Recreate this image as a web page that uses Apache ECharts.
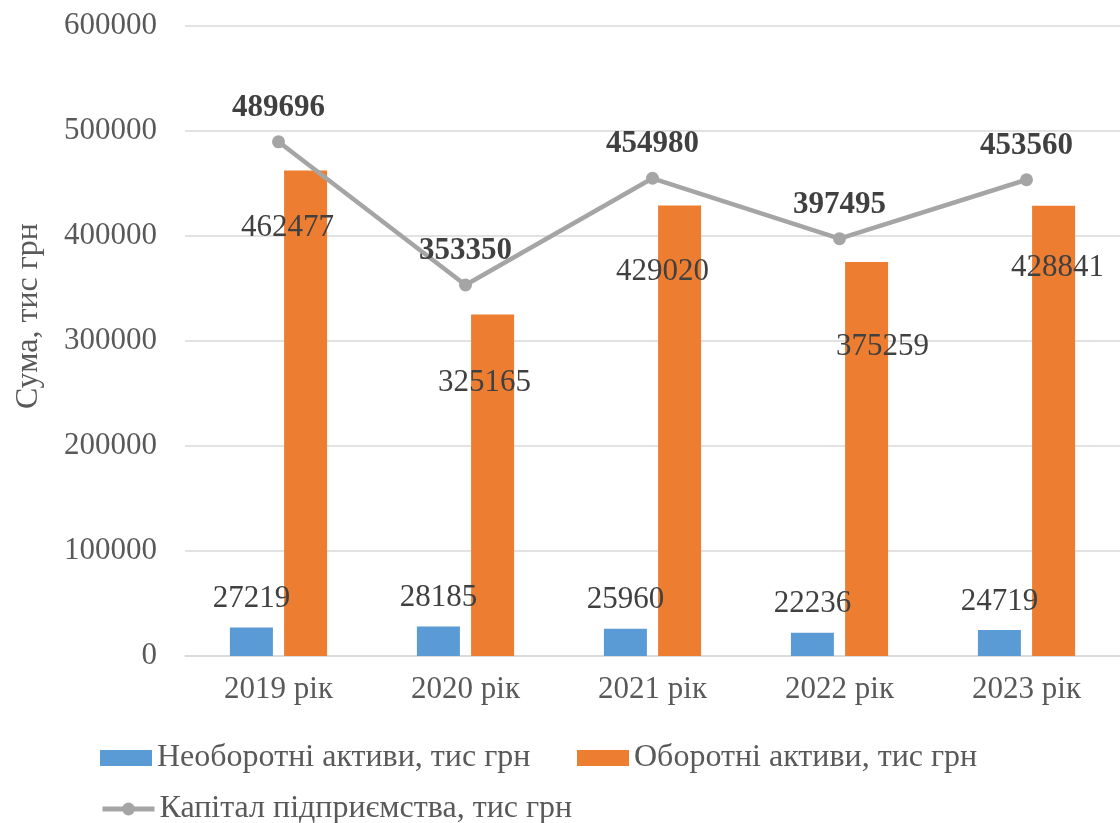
<!DOCTYPE html>
<html>
<head>
<meta charset="utf-8">
<script src="https://cdn.jsdelivr.net/npm/echarts@6/dist/echarts.min.js"></script>
<style>
  html, body { margin: 0; padding: 0; background: #fff; }
  #chart { width: 1120px; height: 823px; }
</style>
</head>
<body>
<div id="chart"></div>
<script>
// дані з діаграми
const years = ['2019 рік', '2020 рік', '2021 рік', '2022 рік', '2023 рік'];
const nonCurrent = [27219, 28185, 25960, 22236, 24719];
const current = [462477, 325165, 429020, 375259, 428841];
const capital = [489696, 353350, 454980, 397495, 453560];
const yTicks = [0, 100000, 200000, 300000, 400000, 500000, 600000];

const FONT = "'Liberation Serif', 'Times New Roman', serif";
const names = ['Необоротні активи, тис грн', 'Оборотні активи, тис грн', 'Капітал підприємства, тис грн'];

// ручне розміщення підписів оборотних активів (як в Excel)
const currentLabelShift = [[-18, 37], [-8, 48], [-17, 46], [16, 64], [4, 42]];

const chart = echarts.init(document.getElementById('chart'));

const legendBase = {
  padding: 0,
  itemWidth: 52,
  itemHeight: 16,
  itemGap: 0,
  textStyle: { fontFamily: FONT, fontSize: 32, color: '#595959', padding: [0, 0, 0, 0] }
};

chart.setOption({
  backgroundColor: '#fff',
  animation: false,
  grid: { left: 185, top: 26, width: 940, height: 630 },
  legend: [
    Object.assign({ left: 100, top: 742, data: [{ name: names[0], icon: 'rect' }] }, legendBase),
    Object.assign({ left: 577, top: 742, data: [{ name: names[1], icon: 'rect' }] }, legendBase),
    Object.assign({ left: 100, top: 793, data: [names[2]],
      itemStyle: { color: '#a5a5a5' },
      lineStyle: { color: '#a5a5a5', width: 5 } }, legendBase)
  ],
  xAxis: {
    type: 'category',
    data: years,
    axisLine: { lineStyle: { color: '#d9d9d9', width: 1.5 } },
    axisTick: { show: false },
    axisLabel: { fontFamily: FONT, fontSize: 31, color: '#595959', margin: 18 }
  },
  yAxis: {
    type: 'value',
    min: yTicks[0],
    max: yTicks[yTicks.length - 1],
    interval: yTicks[1] - yTicks[0],
    name: 'Сума, тис грн',
    nameLocation: 'middle',
    nameGap: 140,
    nameTextStyle: { fontFamily: FONT, fontSize: 32, color: '#595959', padding: [0, 0, 0, 50] },
    axisLine: { show: false },
    axisTick: { show: false },
    splitLine: { lineStyle: { color: '#d9d9d9', width: 1.5 } },
    axisLabel: {
      fontFamily: FONT, fontSize: 31, color: '#595959', margin: 28,
      formatter: v => String(v)
    }
  },
  series: [
    {
      name: names[0],
      type: 'bar',
      data: nonCurrent,
      barWidth: 43,
      barGap: '26%',
      itemStyle: { color: '#5b9bd5' },
      label: {
        show: true, position: 'top', distance: 13,
        fontFamily: FONT, fontSize: 31, color: '#404040'
      }
    },
    {
      name: names[1],
      type: 'bar',
      data: current.map((v, i) => ({
        value: v,
        label: { offset: currentLabelShift[i] }
      })),
      barWidth: 43,
      itemStyle: { color: '#ed7d31' },
      label: {
        show: true, position: 'insideTop',
        fontFamily: FONT, fontSize: 31, color: '#404040'
      }
    },
    {
      name: names[2],
      type: 'line',
      data: capital,
      symbol: 'circle',
      symbolSize: 13,
      z: 5,
      lineStyle: { color: '#a5a5a5', width: 4.5 },
      itemStyle: { color: '#a5a5a5' },
      label: {
        show: true, position: 'top', distance: 12,
        fontFamily: FONT, fontSize: 31, fontWeight: 'bold', color: '#404040'
      }
    }
  ]
});
</script>
</body>
</html>
